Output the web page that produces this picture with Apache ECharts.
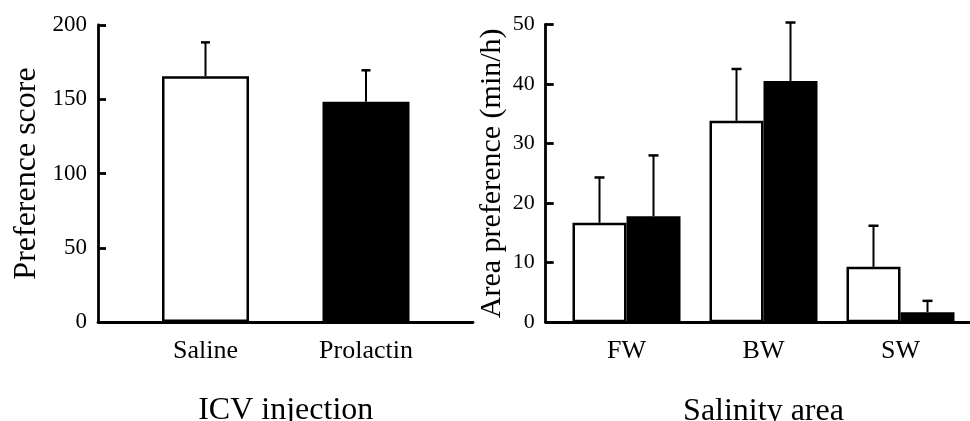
<!DOCTYPE html>
<html>
<head>
<meta charset="utf-8">
<script src="https://cdn.jsdelivr.net/npm/echarts@6/dist/echarts.min.js"></script>
<style>
html,body{margin:0;padding:0;background:#fff;}
#c{width:970px;height:421px;}
</style>
</head>
<body>
<div id="c"></div>
<script>
// ---- data ----
const leftCategories = ['Saline', 'Prolactin'];
const leftMeans = [165.5, 148.4];
const leftErrors = [22.8, 21.1];
const leftFills = ['#ffffff', '#000000'];

const rightCategories = ['FW', 'BW', 'SW'];
const rightWhiteMeans = [16.7, 33.8, 9.3];
const rightWhiteErrors = [7.6, 8.7, 6.9];
const rightBlackMeans = [17.8, 40.5, 1.7];
const rightBlackErrors = [10.2, 9.8, 1.9];

const leftYTicks = {min: 0, max: 200, interval: 50};
const rightYTicks = {min: 0, max: 50, interval: 10};

// ---- style ----
const FONT = 'Liberation Serif';
const AXW = 2.8;

function errorRender(offset, capW) {
  return function (params, api) {
    const i = api.value(0), m = api.value(1), e = api.value(2);
    const p0 = api.coord([i, m]);
    const p1 = api.coord([i, m + e]);
    const x = p0[0] + offset;
    return {
      type: 'group',
      children: [
        {type: 'line', shape: {x1: x, y1: p0[1], x2: x, y2: p1[1]}, style: {stroke: '#000', lineWidth: 2}},
        {type: 'line', shape: {x1: x - capW / 2, y1: p1[1], x2: x + capW / 2, y2: p1[1]}, style: {stroke: '#000', lineWidth: 2.5}}
      ]
    };
  };
}

const chart = echarts.init(document.getElementById('c'), null, {renderer: 'canvas'});

const outerX = {
  type: 'value', min: 0, max: 1,
  axisLine: {show: true, lineStyle: {color: '#000', width: AXW}},
  axisTick: {show: false}, axisLabel: {show: false}, splitLine: {show: false}
};
function outerY(t, name, nameSize, nameGap, labelSize) {
  return {
    type: 'value', min: t.min, max: t.max, interval: t.interval,
    name: name, nameLocation: 'middle', nameGap: nameGap,
    nameTextStyle: {fontFamily: FONT, fontSize: nameSize, color: '#000'},
    axisLine: {show: true, lineStyle: {color: '#000', width: AXW}},
    axisTick: {show: true, inside: true, length: 8, lineStyle: {color: '#000', width: AXW}},
    axisLabel: {fontFamily: FONT, fontSize: labelSize, color: '#000', margin: 11},
    splitLine: {show: false}
  };
}
function innerY(t) {
  return {type: 'value', min: t.min, max: t.max, show: false, splitLine: {show: false}};
}
function innerX(cats, name) {
  return {
    type: 'category', data: cats,
    name: name, nameLocation: 'middle', nameGap: 73,
    nameTextStyle: {fontFamily: FONT, fontSize: 32, color: '#000'},
    axisLine: {show: false}, axisTick: {show: false},
    axisLabel: {fontFamily: FONT, fontSize: 26, color: '#000', margin: 16},
    splitLine: {show: false}
  };
}

const option = {
  backgroundColor: '#fff',
  animation: false,
  grid: [
    {left: 98, top: 25, width: 375, height: 297, outerBoundsMode: 'none'},
    {left: 125.25, top: 25, width: 321, height: 297, outerBoundsMode: 'none'},
    {left: 545.7, top: 24.3, width: 430, height: 298, outerBoundsMode: 'none'},
    {left: 558, top: 24.3, width: 411, height: 298, outerBoundsMode: 'none'}
  ],
  xAxis: [
    Object.assign({gridIndex: 0}, outerX),
    Object.assign({gridIndex: 1}, innerX(leftCategories, 'ICV injection')),
    Object.assign({gridIndex: 2}, outerX),
    Object.assign({gridIndex: 3}, innerX(rightCategories, 'Salinity area'))
  ],
  yAxis: [
    Object.assign({gridIndex: 0}, outerY(leftYTicks, 'Preference score', 32, 55, 23)),
    Object.assign({gridIndex: 1}, innerY(leftYTicks)),
    Object.assign({gridIndex: 2}, outerY(rightYTicks, 'Area preference (min/h)', 30, 39, 22)),
    Object.assign({gridIndex: 3}, innerY(rightYTicks))
  ],
  series: [
    {
      type: 'custom', xAxisIndex: 1, yAxisIndex: 1, z: 1,
      renderItem: errorRender(0, 9),
      encode: {x: 0, y: 1},
      data: leftMeans.map((m, i) => [i, m, leftErrors[i]])
    },
    {
      type: 'bar', xAxisIndex: 1, yAxisIndex: 1, barWidth: 87, z: 2,
      data: leftMeans.map((m, i) => ({value: m, itemStyle: {color: leftFills[i], borderColor: '#000', borderWidth: 2.5}}))
    },
    {
      type: 'custom', xAxisIndex: 3, yAxisIndex: 3, z: 1,
      renderItem: errorRender(-27, 10),
      encode: {x: 0, y: 1},
      data: rightWhiteMeans.map((m, i) => [i, m, rightWhiteErrors[i]])
    },
    {
      type: 'custom', xAxisIndex: 3, yAxisIndex: 3, z: 1,
      renderItem: errorRender(27, 10),
      encode: {x: 0, y: 1},
      data: rightBlackMeans.map((m, i) => [i, m, rightBlackErrors[i]])
    },
    {
      type: 'bar', xAxisIndex: 3, yAxisIndex: 3, barWidth: 54, barGap: '0%', z: 2,
      itemStyle: {color: '#fff', borderColor: '#000', borderWidth: 2.5},
      data: rightWhiteMeans
    },
    {
      type: 'bar', xAxisIndex: 3, yAxisIndex: 3, barWidth: 54, barGap: '0%', z: 2,
      itemStyle: {color: '#000', borderColor: '#000', borderWidth: 2.5},
      data: rightBlackMeans
    }
  ]
};
chart.setOption(option);
</script>
</body>
</html>
